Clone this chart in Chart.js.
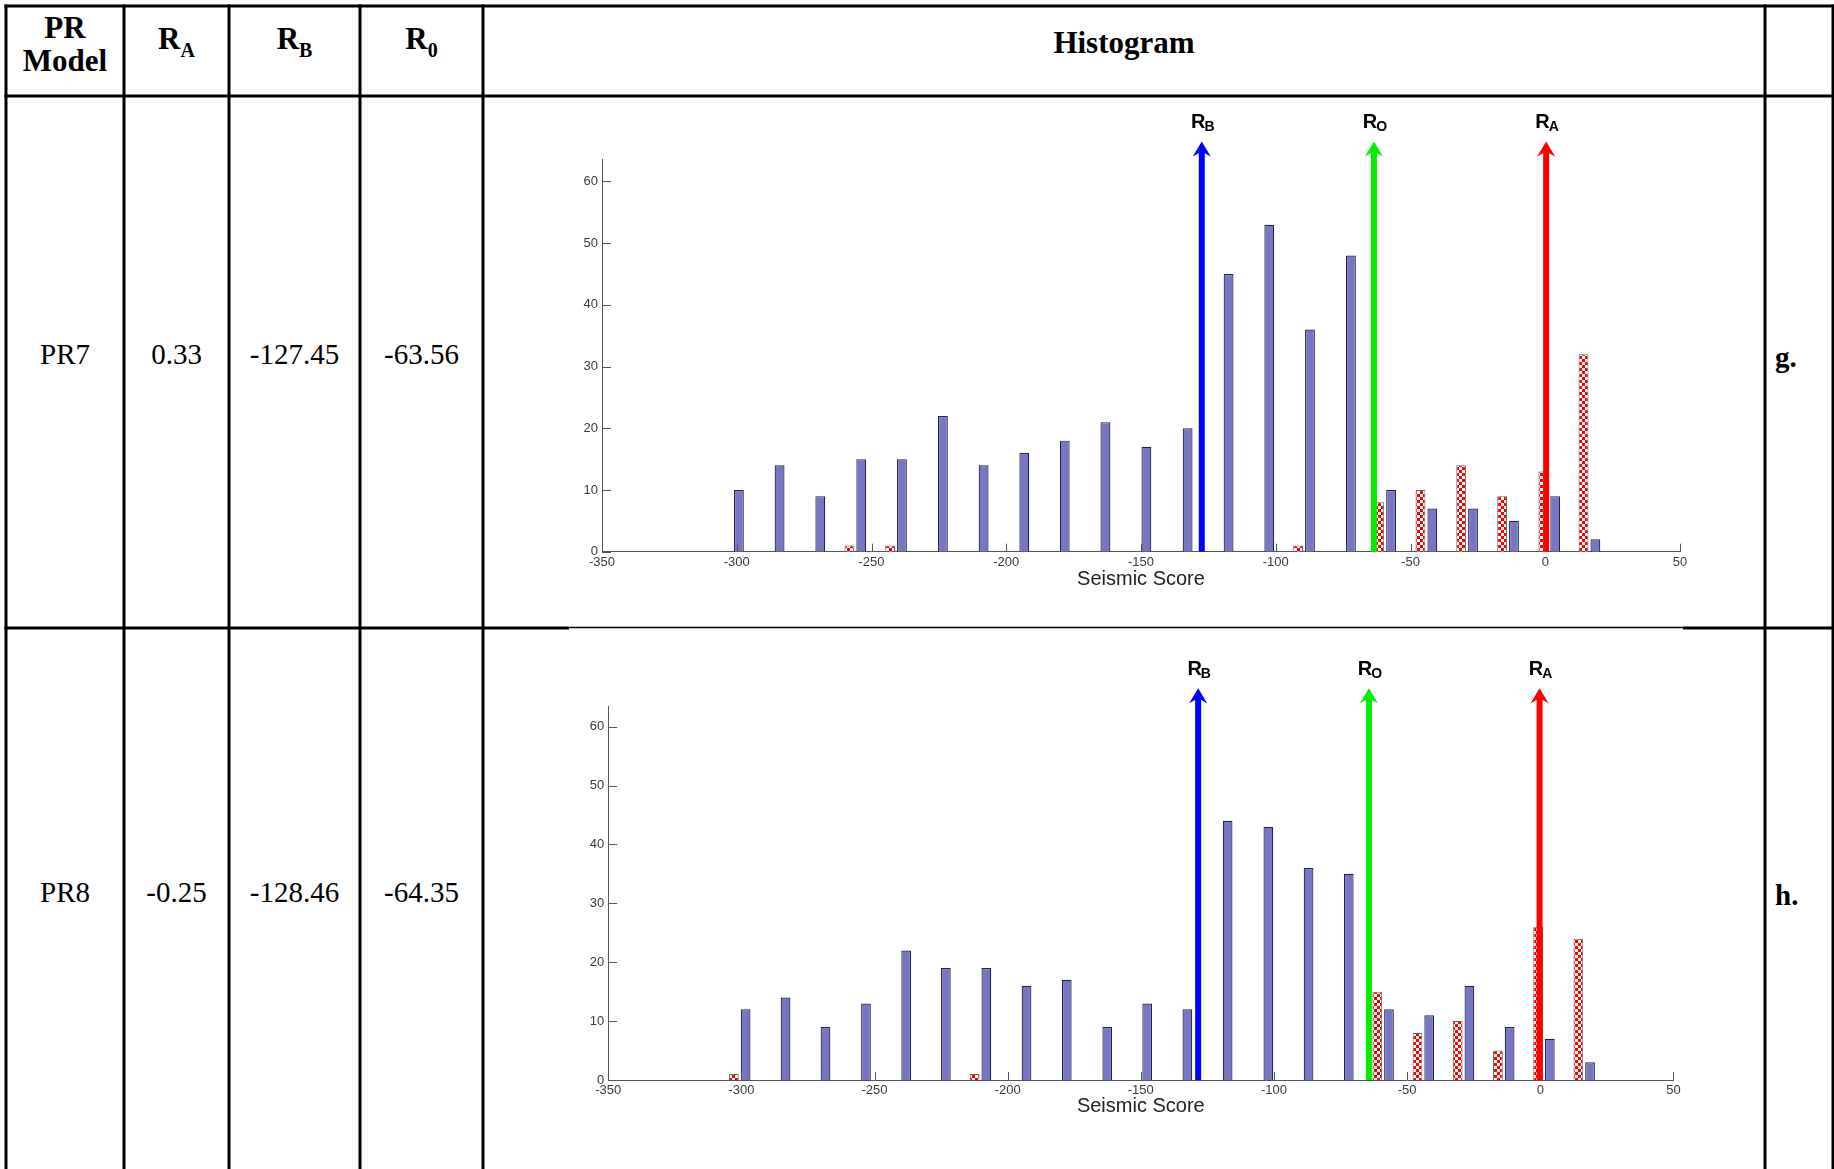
<!DOCTYPE html>
<html>
<head>
<meta charset="utf-8">
<title>PR model seismic score histograms</title>
<script src="https://cdn.jsdelivr.net/npm/chart.js@4.4.1/dist/chart.umd.min.js"></script>
<style>
  html, body { margin: 0; padding: 0; background: #ffffff; }
  body { width: 1834px; height: 1169px; position: relative; overflow: hidden; }
  #grid { position: absolute; left: 0; top: 0; }
  .hist { position: absolute; }
</style>
</head>
<body>
<svg id="grid" width="1834" height="1169" xmlns="http://www.w3.org/2000/svg"></svg>
<div class="hist" id="box7" style="left:490px;top:95px;width:1270px;height:505px"><canvas id="pr7"></canvas></div>
<div class="hist" id="box8" style="left:495px;top:640px;width:1265px;height:505px"><canvas id="pr8"></canvas></div>
<script>
// ---- table values ----
const models = ['PR7', 'PR8'];
const rA = [0.33, -0.25];
const rB = [-127.45, -128.46];
const r0 = [-63.56, -64.35];
const panels = ['g.', 'h.'];

// ---- histogram bins (seismic score bin centres) ----
const binsPR7 = [-301.4, -286.3, -271.2, -256.0, -240.9, -225.7, -210.6, -195.5, -180.5, -165.4, -150.2,
                 -134.9, -119.7, -104.6, -89.5, -74.3, -59.4, -44.1, -29.0, -13.8, 1.5, 16.4];
const binsPR8 = [-300.6, -285.6, -270.6, -255.4, -240.3, -225.4, -210.2, -195.1, -180.0, -164.8, -149.8,
                 -134.7, -119.6, -104.3, -89.2, -74.1, -59.0, -43.9, -28.8, -13.7, 1.4, 16.5];

// counts per bin: checkered (red) class and solid (blue) class
const redPR7  = [0, 0, 0, 1, 1, 0, 0, 0, 0, 0, 0, 0, 0, 0, 1, 0, 8, 10, 14, 9, 13, 32];
const bluePR7 = [10, 14, 9, 15, 15, 22, 14, 16, 18, 21, 17, 20, 45, 53, 36, 48, 10, 7, 7, 5, 9, 2];
const redPR8  = [1, 0, 0, 0, 0, 0, 1, 0, 0, 0, 0, 0, 0, 0, 0, 0, 15, 8, 10, 5, 26, 24];
const bluePR8 = [12, 14, 9, 13, 22, 19, 19, 16, 17, 9, 13, 12, 44, 43, 36, 35, 12, 11, 16, 9, 7, 3];

// x-axis tick labels
const xTicks = [-350, -300, -250, -200, -150, -100, -50, 0, 50];

// ---------------- table grid and text (SVG) ----------------
const NS = 'http://www.w3.org/2000/svg';
const svg = document.getElementById('grid');
const SERIF = '"Liberation Serif", "Times New Roman", serif';

function line(x1, y1, x2, y2, w) {
  const l = document.createElementNS(NS, 'line');
  l.setAttribute('x1', x1); l.setAttribute('y1', y1);
  l.setAttribute('x2', x2); l.setAttribute('y2', y2);
  l.setAttribute('stroke', '#000'); l.setAttribute('stroke-width', w);
  svg.appendChild(l);
}
function text(x, y, parts, opts) {
  const t = document.createElementNS(NS, 'text');
  t.setAttribute('x', x); t.setAttribute('y', y);
  t.setAttribute('font-family', SERIF);
  t.setAttribute('font-size', opts.size);
  t.setAttribute('text-anchor', opts.anchor || 'middle');
  if (opts.bold) t.setAttribute('font-weight', 'bold');
  t.setAttribute('fill', '#000');
  parts.forEach(p => {
    const s = document.createElementNS(NS, 'tspan');
    s.textContent = p.t;
    if (p.size) s.setAttribute('font-size', p.size);
    if (p.dy) s.setAttribute('dy', p.dy);
    t.appendChild(s);
  });
  svg.appendChild(t);
}

const colX = [6, 124, 229, 360, 483, 1765, 1833];
const mid = (a, b) => (a + b) / 2;

// outer + header lines
line(4.5, 6, 1834, 6, 3);
line(4.5, 96, 1834, 96, 3);
// row separator: thick in narrow columns, thin across the histogram
line(4.5, 628, 569, 628, 3);
line(569, 627.5, 1683, 627.5, 1.3);
line(1683, 628, 1834, 628, 3);
colX.forEach(x => line(x, 4.5, x, 1169, 3));

// header
const hs = 31;
const bs = 29;
text(mid(colX[0], colX[1]), 38, [{ t: 'PR' }], { size: hs, bold: true });
text(mid(colX[0], colX[1]), 71, [{ t: 'Model' }], { size: hs, bold: true });
text(mid(colX[1], colX[2]), 49, [{ t: 'R' }, { t: 'A', size: 20, dy: 8 }], { size: hs, bold: true });
text(mid(colX[2], colX[3]), 49, [{ t: 'R' }, { t: 'B', size: 20, dy: 8 }], { size: hs, bold: true });
text(mid(colX[3], colX[4]), 49, [{ t: 'R' }, { t: '0', size: 20, dy: 8 }], { size: hs, bold: true });
text(mid(colX[4], colX[5]), 53, [{ t: 'Histogram' }], { size: hs, bold: true });

// body rows
const rowBase = [364, 902];
models.forEach((m, i) => {
  const y = rowBase[i];
  text(mid(colX[0], colX[1]), y, [{ t: m }], { size: bs });
  text(mid(colX[1], colX[2]), y, [{ t: String(rA[i]) }], { size: bs });
  text(mid(colX[2], colX[3]), y, [{ t: String(rB[i]) }], { size: bs });
  text(mid(colX[3], colX[4]), y, [{ t: String(r0[i]) }], { size: bs });
  text(1775, y + 3, [{ t: panels[i] }], { size: bs, bold: true, anchor: 'start' });
});

// ---------------- histograms (Chart.js) ----------------
const SANS = '"Liberation Sans", Arial, sans-serif';
const AXIS = '#555555';

function checkerPattern() {
  const c = document.createElement('canvas');
  c.width = 6; c.height = 6;
  const g = c.getContext('2d');
  g.fillStyle = '#ffffff'; g.fillRect(0, 0, 6, 6);
  g.fillStyle = '#ff0000';
  g.fillRect(0, 0, 3, 3); g.fillRect(3, 3, 3, 3);
  return g.createPattern(c, 'repeat');
}

// inward tick marks on both axes
const inwardTicks = {
  id: 'inwardTicks',
  afterDatasetsDraw(chart) {
    const { ctx, chartArea: a, scales: { x, y } } = chart;
    ctx.save();
    ctx.strokeStyle = AXIS; ctx.lineWidth = 1;
    ctx.beginPath();
    x.ticks.forEach(t => {
      const px = Math.round(x.getPixelForValue(t.value)) + 0.5;
      ctx.moveTo(px, a.bottom); ctx.lineTo(px, a.bottom - 8);
    });
    y.ticks.forEach(t => {
      const py = Math.round(y.getPixelForValue(t.value)) + 0.5;
      ctx.moveTo(a.left, py); ctx.lineTo(a.left + 9, py);
    });
    ctx.stroke();
    ctx.restore();
  }
};

// vertical arrows marking R_B, R_O, R_A on the score axis
const ARROW_TOP = 66.5;
const scoreArrows = {
  id: 'scoreArrows',
  afterDraw(chart, args, opts) {
    const { ctx, scales: { x, y } } = chart;
    const y0 = y.getPixelForValue(0);
    const yTip = y.getPixelForValue(ARROW_TOP);
    opts.marks.forEach(m => {
      const px = x.getPixelForValue(m.value);
      ctx.save();
      ctx.fillStyle = m.color;
      ctx.fillRect(px - 3, yTip + 8, 6, y0 - (yTip + 8));
      ctx.beginPath();
      ctx.moveTo(px, yTip);
      ctx.lineTo(px + 9, yTip + 15);
      ctx.lineTo(px, yTip + 10);
      ctx.lineTo(px - 9, yTip + 15);
      ctx.closePath();
      ctx.fill();
      // label: R with subscript
      ctx.fillStyle = '#000';
      ctx.textBaseline = 'alphabetic';
      ctx.font = 'bold 20px ' + SANS;
      const wR = ctx.measureText('R').width;
      ctx.font = 'bold 14px ' + SANS;
      const wS = ctx.measureText(m.sub).width;
      const start = px + 1 - (wR + wS - 1) / 2;
      const base = yTip - 13;
      ctx.font = 'bold 20px ' + SANS;
      ctx.fillText('R', start, base);
      ctx.font = 'bold 14px ' + SANS;
      ctx.fillText(m.sub, start + wR - 1, base + 2.5);
      ctx.restore();
    });
  }
};

function histogram(canvasId, bins, red, blue, marks, geo) {
  const pts = arr => bins.map((b, i) => ({ x: b, y: arr[i] > 0 ? arr[i] : null }));
  return new Chart(document.getElementById(canvasId), {
    type: 'bar',
    data: {
      datasets: [
        { label: 'checkered', data: pts(red), backgroundColor: checkerPattern(),
          borderColor: '#5f6e5f', borderWidth: 1 },
        { label: 'solid', data: pts(blue), backgroundColor: '#7676c4',
          borderColor: '#23234a', borderWidth: 1.2 }
      ]
    },
    options: {
      responsive: true,
      maintainAspectRatio: false,
      animation: false,
      categoryPercentage: 0.59,
      barPercentage: 0.83,
      layout: { padding: { left: 0, right: geo.padRight, top: geo.padTop, bottom: geo.padBottom } },
      plugins: {
        legend: { display: false },
        tooltip: { enabled: false },
        scoreArrows: { marks }
      },
      scales: {
        x: {
          type: 'linear', min: -350, max: 50, offset: false,
          grid: { display: false, drawTicks: false, tickLength: 0 },
          border: { display: true, color: AXIS, width: 1 },
          afterBuildTicks: s => { s.ticks = xTicks.map(v => ({ value: v })); },
          ticks: { autoSkip: false, maxRotation: 0, padding: 3, color: '#3a3a3a',
                   font: { family: SANS, size: 13 } },
          title: { display: true, text: 'Seismic Score', color: '#222', padding: 0,
                   font: { family: SANS, size: 20 } },
          afterFit: s => { s.height = geo.xAxisH; }
        },
        y: {
          min: 0, max: 63.5,
          grid: { display: false, drawTicks: false, tickLength: 0 },
          border: { display: true, color: AXIS, width: 1 },
          ticks: { stepSize: 10, includeBounds: false, padding: 4, color: '#3a3a3a',
                   font: { family: SANS, size: 13 } },
          afterFit: s => { s.width = geo.yAxisW; }
        }
      }
    },
    plugins: [inwardTicks, scoreArrows]
  });
}

const marks = i => [
  { sub: 'B', value: rB[i], color: '#0000ff' },
  { sub: 'O', value: r0[i], color: '#00ee00' },
  { sub: 'A', value: rA[i], color: '#ff0000' }
];

histogram('pr7', binsPR7, redPR7, bluePR7, marks(0),
  { yAxisW: 112, padRight: 80, padTop: 64.9, padBottom: 9, xAxisH: 39.3 });
histogram('pr8', binsPR8, redPR8, bluePR8, marks(1),
  { yAxisW: 113.2, padRight: 86.6, padTop: 66, padBottom: 26.3, xAxisH: 38.7 });
</script>
</body>
</html>
